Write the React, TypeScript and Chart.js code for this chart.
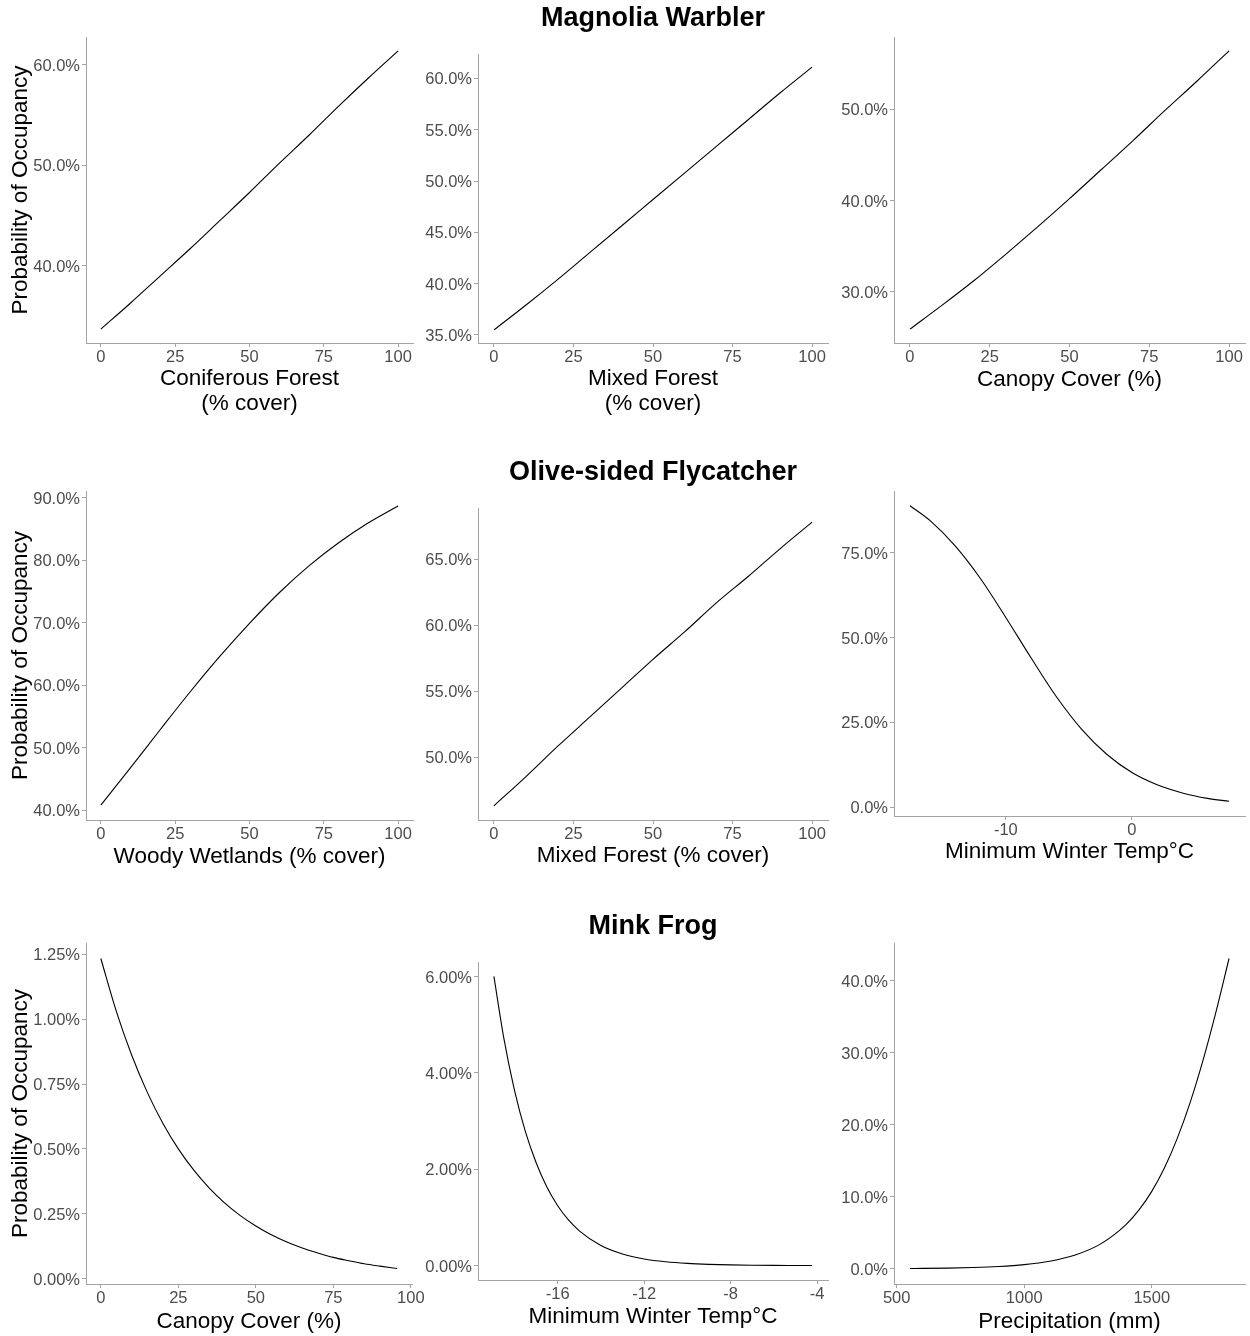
import React, { useEffect, useRef } from 'react';
import { Chart, registerables } from 'chart.js';

Chart.register(...registerables);

const FONT = '"Liberation Sans", Arial, Helvetica, sans-serif';
const AXIS_COLOR = '#a3a3a3';
const TICK_LABEL_COLOR = '#4d4d4d';

// ---------- data (probability of occupancy, %) ----------
const PCT_COVER = [0, 10, 20, 30, 40, 50, 60, 70, 80, 90, 100];
const PCT_TICKS = [0, 25, 50, 75, 100];

// Magnolia Warbler
const MW_CONIFEROUS = [33.7, 36.3, 39.0, 41.7, 44.5, 47.3, 50.2, 53.0, 55.9, 58.7, 61.4];
const MW_CONIFEROUS_TICKS = [40, 50, 60];
const MW_MIXED = [35.5, 37.9, 40.4, 43.0, 45.6, 48.2, 50.8, 53.4, 56.0, 58.6, 61.1];
const MW_MIXED_TICKS = [35, 40, 45, 50, 55, 60];
const MW_CANOPY = [25.9, 28.5, 31.2, 34.1, 37.1, 40.2, 43.4, 46.6, 49.9, 53.1, 56.4];
const MW_CANOPY_TICKS = [30, 40, 50];

// Olive-sided Flycatcher
const OSF_WETLANDS = [40.8, 46.8, 52.9, 58.9, 64.6, 69.9, 74.8, 79.1, 82.8, 86.0, 88.7];
const OSF_WETLANDS_TICKS = [40, 50, 60, 70, 80, 90];
const OSF_MIXED = [46.3, 48.5, 50.8, 53.0, 55.2, 57.4, 59.5, 61.7, 63.7, 65.8, 67.8];
const OSF_MIXED_TICKS = [50, 55, 60, 65];
const OSF_TEMP_C = [-17.6, -16, -14, -12, -10, -8, -6, -4, -2, 0, 2, 4, 6, 7.7];
const OSF_TEMP = [88.8, 84.4, 76.9, 67.3, 55.9, 44.0, 32.6, 23.0, 15.6, 10.2, 6.6, 4.2, 2.6, 1.75];
const OSF_TEMP_XTICKS = [-10, 0];
const OSF_TEMP_TICKS = [0, 25, 50, 75];

// Mink Frog
const MF_CANOPY_X = [0, 5, 10, 15, 20, 25, 30, 35, 40, 45, 50, 55, 60, 65, 70, 75, 80, 85, 90, 95.6];
const MF_CANOPY = [1.234, 1.03, 0.86, 0.718, 0.599, 0.5, 0.418, 0.349, 0.291, 0.243, 0.203, 0.169, 0.141, 0.118, 0.099, 0.082, 0.069, 0.057, 0.048, 0.039];
const MF_CANOPY_TICKS = [0, 0.25, 0.5, 0.75, 1, 1.25];
const MF_TEMP_C = [-18.95, -18.5, -18, -17.5, -17, -16.5, -16, -15.5, -15, -14, -13, -12, -11, -10, -9, -8, -7, -6, -5, -4.23];
const MF_TEMP = [6.0, 4.74, 3.64, 2.79, 2.14, 1.63, 1.244, 0.948, 0.722, 0.417, 0.241, 0.139, 0.0805, 0.0464, 0.0268, 0.0155, 0.0089, 0.0051, 0.003, 0.0019];
const MF_TEMP_XTICKS = [-16, -12, -8, -4];
const MF_TEMP_TICKS = [0, 2, 4, 6];
const MF_PRECIP_MM = [552, 600, 700, 800, 900, 1000, 1100, 1200, 1300, 1400, 1450, 1500, 1550, 1600, 1650, 1700, 1750, 1803];
const MF_PRECIP = [0.038, 0.051, 0.094, 0.172, 0.315, 0.577, 1.054, 1.915, 3.458, 6.17, 8.17, 10.75, 14.03, 18.11, 23.04, 28.84, 35.44, 43.1];
const MF_PRECIP_XTICKS = [500, 1000, 1500];
const MF_PRECIP_TICKS = [0, 10, 20, 30, 40];

const ROW_TITLES = ['Magnolia Warbler', 'Olive-sided Flycatcher', 'Mink Frog'];
const Y_TITLE = 'Probability of Occupancy';

type Spec = {
  xs: number[];
  ys: number[];
  xTicks: number[];
  yTicks: number[];
  decimals: number;
  xTitle: string | string[];
};

const SPECS: Spec[] = [
  { xs: PCT_COVER, ys: MW_CONIFEROUS, xTicks: PCT_TICKS, yTicks: MW_CONIFEROUS_TICKS, decimals: 1, xTitle: ['Coniferous Forest', '(% cover)'] },
  { xs: PCT_COVER, ys: MW_MIXED, xTicks: PCT_TICKS, yTicks: MW_MIXED_TICKS, decimals: 1, xTitle: ['Mixed Forest', '(% cover)'] },
  { xs: PCT_COVER, ys: MW_CANOPY, xTicks: PCT_TICKS, yTicks: MW_CANOPY_TICKS, decimals: 1, xTitle: 'Canopy Cover (%)' },
  { xs: PCT_COVER, ys: OSF_WETLANDS, xTicks: PCT_TICKS, yTicks: OSF_WETLANDS_TICKS, decimals: 1, xTitle: 'Woody Wetlands (% cover)' },
  { xs: PCT_COVER, ys: OSF_MIXED, xTicks: PCT_TICKS, yTicks: OSF_MIXED_TICKS, decimals: 1, xTitle: 'Mixed Forest (% cover)' },
  { xs: OSF_TEMP_C, ys: OSF_TEMP, xTicks: OSF_TEMP_XTICKS, yTicks: OSF_TEMP_TICKS, decimals: 1, xTitle: 'Minimum Winter Temp\u00B0C' },
  { xs: MF_CANOPY_X, ys: MF_CANOPY, xTicks: PCT_TICKS, yTicks: MF_CANOPY_TICKS, decimals: 2, xTitle: 'Canopy Cover (%)' },
  { xs: MF_TEMP_C, ys: MF_TEMP, xTicks: MF_TEMP_XTICKS, yTicks: MF_TEMP_TICKS, decimals: 2, xTitle: 'Minimum Winter Temp\u00B0C' },
  { xs: MF_PRECIP_MM, ys: MF_PRECIP, xTicks: MF_PRECIP_XTICKS, yTicks: MF_PRECIP_TICKS, decimals: 1, xTitle: 'Precipitation (mm)' },
];

// ---------- layout (page pixels) ----------
// plot area: left, top, right, bottom
const AREAS = [
  [86, 37, 413, 343], [478, 54, 828, 343], [894, 37, 1245, 343],
  [86, 491, 413, 820], [478, 508, 828, 820], [894, 491, 1245, 816],
  [86, 943, 412, 1284], [478, 962, 828, 1280], [894, 943, 1245, 1284],
];
const X_TITLE_CENTER = [403.5, 403.5, 379.5, 856.5, 855.5, 851.5, 1322, 1317, 1322];
const ROW_TITLE_CENTER = [19, 473, 926.5];

const TICK_SIZE = 16.5;
const AXIS_TITLE_SIZE = 22.5;
const AXIS_TITLE_LH = 1.1;
const ROW_TITLE_SIZE = 27;
const ROW_TITLE_LH = 1.2;

function expand(vals: number[]): [number, number] {
  const lo = Math.min(...vals);
  const hi = Math.max(...vals);
  const pad = (hi - lo) * 0.05;
  return [lo - pad, hi + pad];
}

function Panel({ index }: { index: number }) {
  const ref = useRef<HTMLCanvasElement | null>(null);
  const spec = SPECS[index];
  const row = Math.floor(index / 3);
  const col = index % 3;
  const [aL, aT, aR, aB] = AREAS[index];
  const isMid = col === 1;
  const yW = col === 0 ? aL : 60;
  const left = aL - yW;
  const rightPad = col === 2 ? 1250 - aR : 20;
  const titleLH = ROW_TITLE_SIZE * ROW_TITLE_LH;
  const top = Math.round(isMid ? ROW_TITLE_CENTER[row] - 2 - titleLH / 2 : aT - 14);
  const xLH = AXIS_TITLE_SIZE * AXIS_TITLE_LH;
  const bottom = Math.ceil(X_TITLE_CENTER[index] + xLH / 2 + 2);
  const width = aR + rightPad - left;
  const height = bottom - top;
  const xH = bottom - aB;
  const xTitlePadB = bottom - X_TITLE_CENTER[index] - xLH / 2;
  const titlePadTop = ROW_TITLE_CENTER[row] - top - titleLH / 2;
  const titlePadBottom = aT - top - titleLH - titlePadTop;

  useEffect(() => {
    if (!ref.current) return;
    const [xMin, xMax] = expand(spec.xs);
    const [yMin, yMax] = expand(spec.ys);
    const chart = new Chart(ref.current, {
      type: 'line',
      data: {
        datasets: [
          {
            data: spec.xs.map((x, i) => ({ x, y: spec.ys[i] })),
            borderColor: '#000000',
            borderWidth: 1.1,
            pointRadius: 0,
            fill: false,
            cubicInterpolationMode: 'monotone',
          },
        ],
      },
      options: {
        animation: false,
        responsive: false,
        events: [],
        layout: { padding: { left: 0, right: rightPad, top: isMid ? 0 : aT - top, bottom: 0 } },
        plugins: {
          legend: { display: false },
          tooltip: { enabled: false },
          title: isMid
            ? {
                display: true,
                text: ROW_TITLES[row],
                fullSize: false,
                color: '#000000',
                font: { family: FONT, size: ROW_TITLE_SIZE, weight: 'bold', lineHeight: ROW_TITLE_LH },
                padding: { top: titlePadTop, bottom: titlePadBottom },
              }
            : { display: false },
        },
        scales: {
          x: {
            type: 'linear',
            min: xMin,
            max: xMax,
            afterBuildTicks: (s: any) => {
              s.ticks = spec.xTicks.map((v) => ({ value: v }));
            },
            afterFit: (s: any) => {
              s.height = xH;
            },
            ticks: {
              autoSkip: false,
              maxRotation: 0,
              minRotation: 0,
              padding: 0.5,
              color: TICK_LABEL_COLOR,
              font: { family: FONT, size: TICK_SIZE, lineHeight: 1.2 },
              callback: (v: any) => String(v),
            },
            grid: { display: true, drawOnChartArea: false, drawTicks: true, tickLength: 4, color: AXIS_COLOR, lineWidth: 1 },
            border: { display: true, color: AXIS_COLOR, width: 1 },
            title: {
              display: true,
              text: spec.xTitle,
              color: '#000000',
              font: { family: FONT, size: AXIS_TITLE_SIZE, lineHeight: AXIS_TITLE_LH },
              padding: { top: 0, bottom: xTitlePadB },
            },
          },
          y: {
            type: 'linear',
            min: yMin,
            max: yMax,
            afterBuildTicks: (s: any) => {
              s.ticks = spec.yTicks.map((v) => ({ value: v }));
            },
            afterFit: (s: any) => {
              s.width = yW;
            },
            ticks: {
              autoSkip: false,
              padding: 2,
              labelOffset: 1.5,
              color: TICK_LABEL_COLOR,
              font: { family: FONT, size: TICK_SIZE, lineHeight: 1.2 },
              callback: (v: any) => Number(v).toFixed(spec.decimals) + '%',
            },
            grid: { display: true, drawOnChartArea: false, drawTicks: true, tickLength: 4, color: AXIS_COLOR, lineWidth: 1 },
            border: { display: true, color: AXIS_COLOR, width: 1 },
            title: {
              display: col === 0,
              text: Y_TITLE,
              color: '#000000',
              font: { family: FONT, size: AXIS_TITLE_SIZE, lineHeight: 1.2 },
              padding: { top: 7, bottom: 0 },
            },
          },
        },
      } as any,
    });
    return () => chart.destroy();
  }, [index]);

  return (
    <canvas
      ref={ref}
      width={width}
      height={height}
      style={{ position: 'absolute', left, top, width, height }}
    />
  );
}

export default function App() {
  return (
    <div style={{ position: 'absolute', left: 0, top: 0, width: 1250, height: 1336, background: '#ffffff', overflow: 'hidden' }}>
      {SPECS.map((_, i) => (
        <Panel key={i} index={i} />
      ))}
    </div>
  );
}
